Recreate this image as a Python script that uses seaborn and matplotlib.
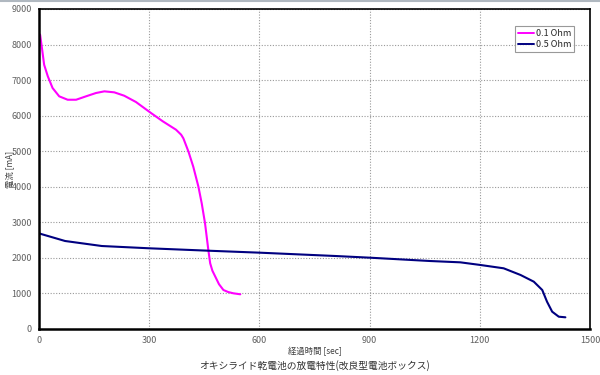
import matplotlib
matplotlib.use("Agg")
import matplotlib.pyplot as plt
import seaborn as sns
import pandas as pd
from matplotlib.lines import Line2D

# 0.1 Ohm series
t_01 = [0, 3, 8, 14, 24, 37, 55, 78, 101, 128, 155, 178, 205, 232, 264, 305,
        337, 373, 387, 393, 407, 420, 434, 443, 452, 461, 466, 472, 480, 490,
        502, 515, 529, 548]
i_01 = [8300, 8276, 7902, 7432, 7106, 6777, 6544, 6448, 6448, 6544, 6637, 6684,
        6656, 6561, 6384, 6074, 5841, 5605, 5464, 5363, 4986, 4564, 4002, 3533,
        2972, 2222, 1848, 1640, 1471, 1260, 1097, 1040, 1004, 976]
# 0.5 Ohm series
t_05 = [0, 3, 71, 171, 302, 461, 602, 807, 902, 1065, 1147, 1202, 1265, 1311,
        1347, 1370, 1383, 1397, 1415, 1433]
i_05 = [2700, 2680, 2475, 2334, 2269, 2202, 2146, 2053, 2005, 1912, 1875, 1800,
        1707, 1519, 1331, 1097, 768, 487, 346, 329]

labels = ["0.1 Ohm", "0.5 Ohm"]
colors = ["#FF00FF", "#000080"]
x_ticks = [0, 300, 600, 900, 1200, 1500]
y_ticks = [0, 1000, 2000, 3000, 4000, 5000, 6000, 7000, 8000, 9000]

df = pd.concat([
    pd.DataFrame({"t": t_01, "i": i_01, "s": labels[0]}),
    pd.DataFrame({"t": t_05, "i": i_05, "s": labels[1]}),
])

sns.set_style("white")
plt.rcParams["font.family"] = ["Noto Sans CJK JP", "DejaVu Sans"]

fig = plt.figure(figsize=(6, 3.75), dpi=100)
ax = fig.add_axes([39/600, 1-329/375, 551/600, 320/375])
sns.lineplot(data=df, x="t", y="i", hue="s", palette=dict(zip(labels, colors)),
             sort=False, estimator=None, linewidth=1.5, ax=ax, legend=False)
for ln in ax.lines:
    ln.set_solid_joinstyle("round")

ax.set_xlim(0, 1500)
ax.set_ylim(0, 9000)
ax.set_xticks(x_ticks)
ax.set_yticks(y_ticks)
ax.tick_params(axis="both", labelsize=6.5, labelcolor="#606060", length=0, pad=5)
ax.grid(True, color="#999999", linestyle=(0, (1, 1.5)), linewidth=0.8)
for name, sp in ax.spines.items():
    sp.set_color("black")
    sp.set_linewidth(1.2)
ax.spines["left"].set_linewidth(1.8)
ax.spines["bottom"].set_linewidth(1.8)

ax.set_xlabel("")
ax.set_ylabel("")
fig.text(10/600, 1-169/375, "電流 [mA]", rotation=90, ha="center", va="center",
         fontsize=6, color="#404040")
fig.text(314.5/600, 1-351/375, "経過時間 [sec]", ha="center", va="center",
         fontsize=6, color="#404040")
fig.text(314.5/600, 1-366/375, "オキシライド乾電池の放電特性(改良型電池ボックス)",
         ha="center", va="center", fontsize=7, color="#303030")

handles = [Line2D([0], [0], color=c, lw=1.4) for c in colors]
leg = ax.legend(handles, labels, loc="upper right", bbox_to_anchor=(0.98, 0.96),
                fontsize=6.5, frameon=True, fancybox=False, handlelength=1.8,
                handletextpad=0.2, borderpad=0.3, labelspacing=0.2)
leg.get_frame().set_edgecolor("#808080")
leg.get_frame().set_linewidth(0.8)

fig.add_artist(Line2D([0, 1], [0.998, 0.998], color="#B0B8C0", lw=1.5,
                      transform=fig.transFigure))

fig.savefig("out.png", dpi=100, facecolor="white")
